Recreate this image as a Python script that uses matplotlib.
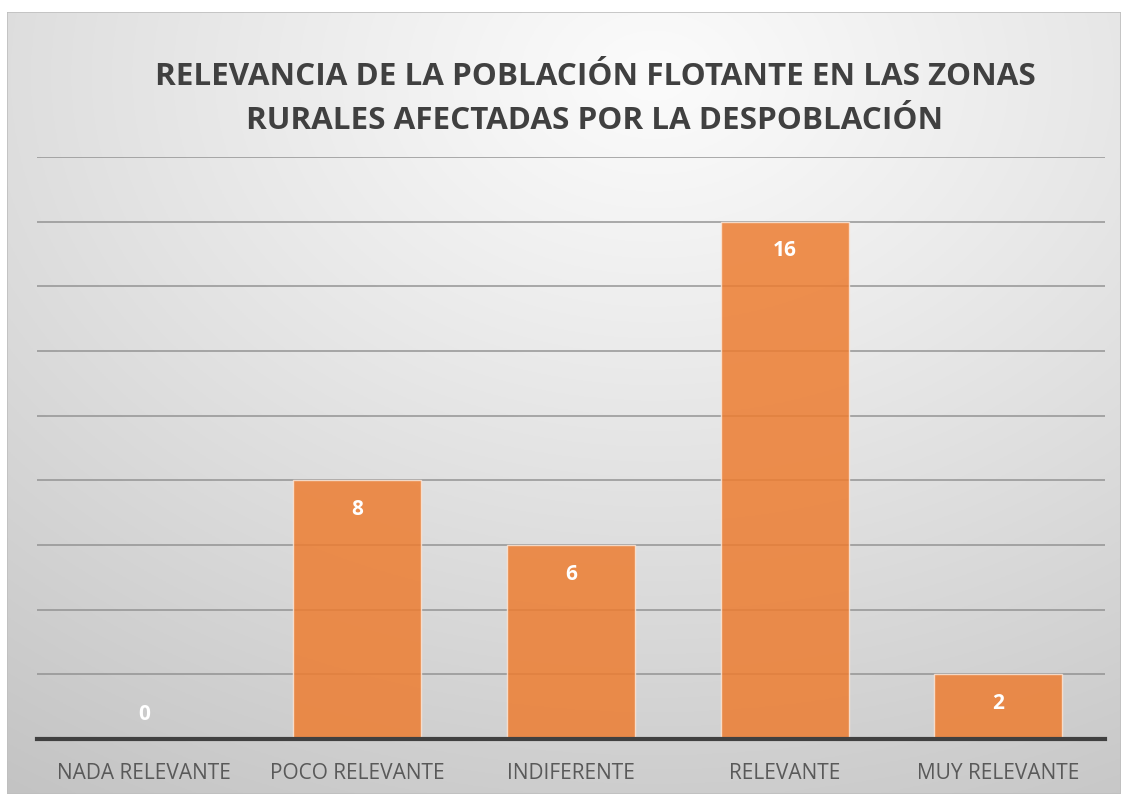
import numpy as np
import matplotlib
matplotlib.use("Agg")
import matplotlib.pyplot as plt
from matplotlib.patches import Rectangle

categories = ["NADA RELEVANTE", "POCO RELEVANTE", "INDIFERENTE", "RELEVANTE", "MUY RELEVANTE"]
values = [0, 8, 6, 16, 2]
title = "RELEVANCIA DE LA POBLACIÓN FLOTANTE EN LAS ZONAS\nRURALES AFECTADAS POR LA DESPOBLACIÓN"

W, H = 1123, 794
fig = plt.figure(figsize=(W / 100, H / 100), dpi=100)
fig.patch.set_facecolor("white")

# background radial gradient panel
bg = fig.add_axes([7 / W, 0, (1121 - 7) / W, (H - 12) / H])
bg.set_axis_off()
ny, nx = 400, 560
yy, xx = np.mgrid[0:ny, 0:nx]
cx, cy = nx * 0.58, ny * 0.08
r = np.sqrt(((xx - cx) / nx) ** 2 + ((yy - cy) / ny) ** 2 * 0.9)
r = r / r.max()
v = 0.985 - 0.22 * np.clip(r, 0, 1) ** 1.1
img = np.dstack([v, v, v])
bg.imshow(img, aspect="auto", extent=[0, 1, 0, 1], origin="upper")
bg.add_patch(Rectangle((0, 0), 1, 1, transform=bg.transAxes, fill=False,
                       edgecolor="#bfbfbf", lw=1.2))

ax = fig.add_axes([37 / W, (H - 739) / H, (1105 - 37) / W, (739 - 157) / H])
ax.patch.set_alpha(0)
x = np.arange(len(categories))
bars = ax.bar(x, values, width=0.6, color="#ED7D31", alpha=0.85,
              edgecolor="#fbe5d6", linewidth=1.0, zorder=3)
ax.set_xlim(-0.5, len(categories) - 0.5)
ax.set_ylim(0, 18)
ax.set_yticks(np.arange(0, 19, 2))
ax.yaxis.grid(True, color="#8f8f8f", lw=1.3, alpha=0.8, zorder=0)
ax.tick_params(axis="y", left=False, labelleft=False)
ax.tick_params(axis="x", length=0, pad=17, labelsize=15, labelcolor="#595959")
ax.set_xticks(x)
ax.set_xticklabels(categories, fontfamily="Open Sans")
for s in ["top", "right", "left"]:
    ax.spines[s].set_visible(False)
ax.spines["bottom"].set_color("#404040")
ax.spines["bottom"].set_linewidth(3)
ax.spines["bottom"].set_zorder(4)

for xi, val in zip(x, values):
    off = -29 if val > 0 else 25
    ax.annotate(str(val), (xi, val), xytext=(0, off), textcoords="offset pixels",
                ha="center", va="center", color="white", fontsize=15,
                fontweight="bold", fontfamily="Open Sans", zorder=5)

fig.text(595 / W, 1 - 99 / H, title, ha="center", va="center",
         fontsize=22.6, fontweight="bold", color="#404040",
         fontfamily="Open Sans", linespacing=1.6)

fig.savefig("out.png", dpi=100)
